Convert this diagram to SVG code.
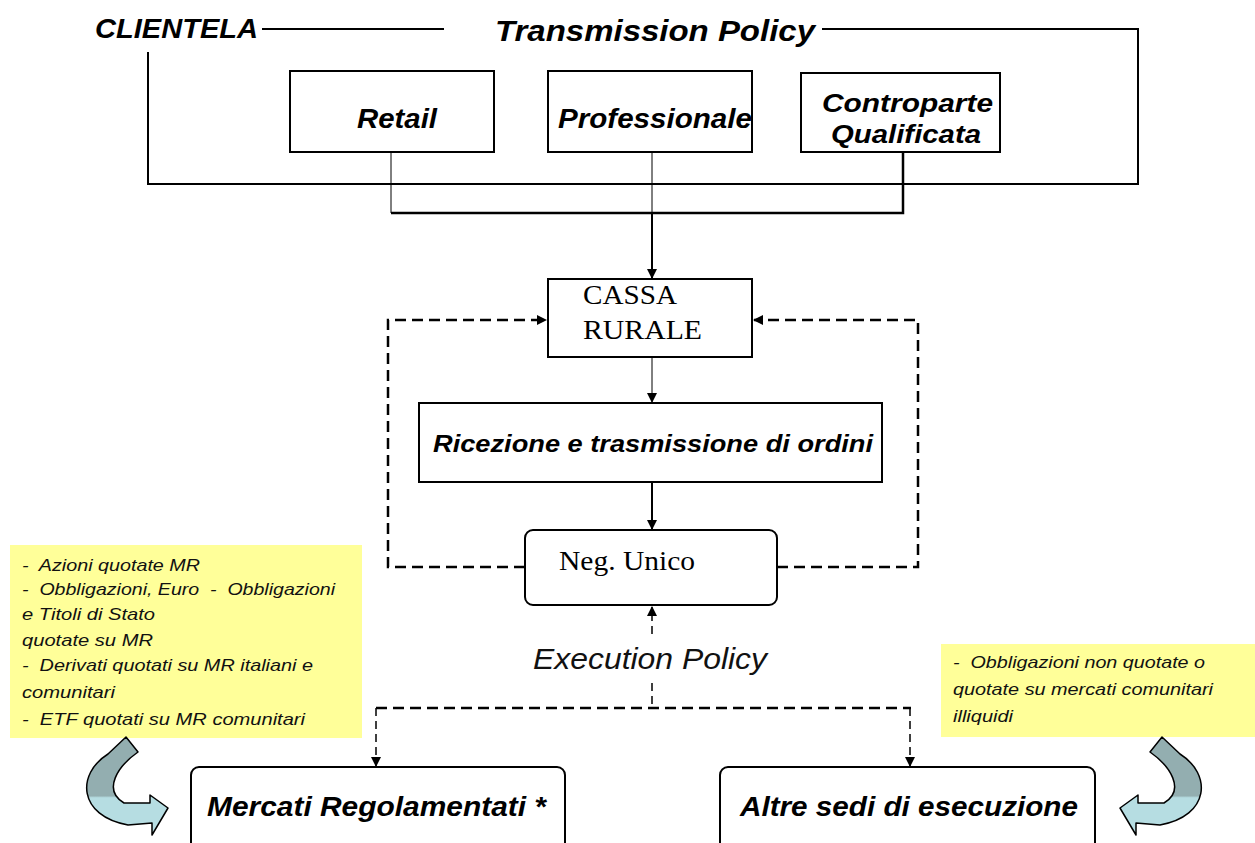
<svg xmlns="http://www.w3.org/2000/svg" width="1255" height="843" viewBox="0 0 1255 843">
<style>
.box{fill:#fff;stroke:#000;stroke-width:2}
.bi{font-family:"Liberation Sans",Arial,sans-serif;font-weight:bold;font-style:italic;fill:#000}
.it{font-family:"Liberation Sans",Arial,sans-serif;font-style:italic;fill:#111}
.serif{font-family:"Liberation Serif","Times New Roman",serif;fill:#000}
.ln{fill:none;stroke:#000}
.dash{fill:none;stroke:#000;stroke-width:2.5;stroke-dasharray:11 6}
.dthin{fill:none;stroke:#000;stroke-width:1.5;stroke-dasharray:8 5}
.note{fill:#ffff99}
.nt{font-family:"Liberation Sans",Arial,sans-serif;font-style:italic;font-size:17px;fill:#111;white-space:pre}
</style>
<defs>
<marker id="ah" markerWidth="10" markerHeight="10" refX="9" refY="5" orient="auto" markerUnits="userSpaceOnUse">
<path d="M0,0 L10,5 L0,10 Z" fill="#000"/>
</marker>
<linearGradient id="cg" x1="0" y1="0" x2="0" y2="1">
<stop offset="0" stop-color="#93aeb0"/>
<stop offset="0.6" stop-color="#93aeb0"/>
<stop offset="0.62" stop-color="#b6dde2"/>
<stop offset="1" stop-color="#b6dde2"/>
</linearGradient>
</defs>

<g id="connectors">
<path class="ln" stroke-width="2" d="M262,29 H444"/>
<path class="ln" stroke-width="2" d="M822,29 H1138 V184 H148 V52"/>
<path class="ln" stroke-width="1" d="M391,152 V213"/>
<path class="ln" stroke-width="1" d="M652,152 V213"/>
<path class="ln" stroke-width="2.5" d="M903,152 V213 H391"/>
<path class="ln" stroke-width="2" d="M652,213 V278" marker-end="url(#ah)"/>
<path class="ln" stroke-width="1" d="M652,357 V402" marker-end="url(#ah)"/>
<path class="ln" stroke-width="2" d="M652,482 V529" marker-end="url(#ah)"/>
<path class="dash" d="M525,567 H388 V320 H546" marker-end="url(#ah)"/>
<path class="dash" d="M777,567 H918 V320 H754" marker-end="url(#ah)"/>
<path class="dthin" d="M652,634 V607" marker-end="url(#ah)"/>
<path class="dthin" d="M652,683 V708"/>
<path class="dash" d="M376,708 H911"/>
<path class="dthin" d="M376,708 V766" marker-end="url(#ah)"/>
<path class="dthin" d="M910,708 V766" marker-end="url(#ah)"/>
</g>

<g id="clientela">
<text class="bi" x="95" y="38" font-size="27" textLength="163" lengthAdjust="spacingAndGlyphs">CLIENTELA</text>
</g>
<g id="transmission-policy">
<text class="bi" x="495" y="41" font-size="29" textLength="320" lengthAdjust="spacingAndGlyphs">Transmission  Policy</text>
</g>

<g id="retail">
<rect class="box" x="290" y="71" width="204" height="81"/>
<text class="bi" x="357" y="128" font-size="28" textLength="80" lengthAdjust="spacingAndGlyphs">Retail</text>
</g>
<g id="professionale">
<rect class="box" x="548" y="71" width="204" height="81"/>
<text class="bi" x="558" y="128" font-size="27" textLength="194" lengthAdjust="spacingAndGlyphs">Professionale</text>
</g>
<g id="controparte">
<rect class="box" x="801" y="73" width="199" height="79"/>
<text class="bi" x="822" y="112" font-size="26" textLength="171" lengthAdjust="spacingAndGlyphs">Controparte</text>
<text class="bi" x="831" y="143" font-size="26" textLength="150" lengthAdjust="spacingAndGlyphs">Qualificata</text>
</g>

<g id="cassa-rurale">
<rect class="box" x="548" y="279" width="204" height="78"/>
<text class="serif" x="583" y="304" font-size="28" textLength="94" lengthAdjust="spacingAndGlyphs">CASSA</text>
<text class="serif" x="583" y="339" font-size="28" textLength="119" lengthAdjust="spacingAndGlyphs">RURALE</text>
</g>

<g id="ricezione">
<rect class="box" x="419" y="403" width="463" height="79"/>
<text class="bi" x="433" y="452" font-size="23" textLength="440" lengthAdjust="spacingAndGlyphs">Ricezione e trasmissione di ordini</text>
</g>

<g id="neg-unico">
<rect class="box" x="525" y="530" width="252" height="75" rx="8"/>
<text class="serif" x="559" y="570" font-size="28" textLength="136" lengthAdjust="spacingAndGlyphs">Neg. Unico</text>
</g>

<g id="execution-policy">
<text class="it" x="533" y="669" font-size="30" textLength="234" lengthAdjust="spacingAndGlyphs">Execution Policy</text>
</g>

<g id="mercati">
<rect class="box" x="191" y="767" width="374" height="90" rx="8"/>
<text class="bi" x="207" y="816" font-size="28" textLength="339" lengthAdjust="spacingAndGlyphs">Mercati Regolamentati *</text>
</g>

<g id="altre-sedi">
<rect class="box" x="720" y="767" width="375" height="90" rx="8"/>
<text class="bi" x="740" y="816" font-size="28" textLength="338" lengthAdjust="spacingAndGlyphs">Altre sedi di esecuzione</text>
</g>

<g id="note-left">
<rect class="note" x="10" y="545" width="352" height="193"/>
<text class="nt" x="22" y="571" textLength="178" lengthAdjust="spacingAndGlyphs">-  Azioni quotate MR</text>
<text class="nt" x="22" y="595" textLength="313" lengthAdjust="spacingAndGlyphs">-  Obbligazioni, Euro  -  Obbligazioni</text>
<text class="nt" x="22" y="620" textLength="133" lengthAdjust="spacingAndGlyphs">e Titoli di Stato</text>
<text class="nt" x="22" y="646" textLength="131" lengthAdjust="spacingAndGlyphs">quotate su MR</text>
<text class="nt" x="22" y="671" textLength="291" lengthAdjust="spacingAndGlyphs">-  Derivati quotati su MR italiani e</text>
<text class="nt" x="22" y="698" textLength="93" lengthAdjust="spacingAndGlyphs">comunitari</text>
<text class="nt" x="22" y="725" textLength="283" lengthAdjust="spacingAndGlyphs">-  ETF quotati su MR comunitari</text>
</g>

<g id="note-right">
<rect class="note" x="941" y="644" width="314" height="93"/>
<text class="nt" x="953" y="668" textLength="252" lengthAdjust="spacingAndGlyphs">-  Obbligazioni non quotate o</text>
<text class="nt" x="953" y="695" textLength="260" lengthAdjust="spacingAndGlyphs">quotate su mercati comunitari</text>
<text class="nt" x="953" y="722" textLength="60" lengthAdjust="spacingAndGlyphs">illiquidi</text>
</g>

<g id="arrow-left">
<path d="M108,754 L126,737 L138,752 C118,766 102,790 124,803 L150,803 L150,795 L168,808 L152,835 L152,823 L128,825 C78,816 76,774 108,754 Z" fill="url(#cg)" stroke="#000" stroke-width="1.5" stroke-linejoin="round"/>
</g>
<g id="arrow-right">
<path transform="translate(1288,0) scale(-1,1)" d="M108,754 L126,737 L138,752 C118,766 102,790 124,803 L150,803 L150,795 L168,808 L152,835 L152,823 L128,825 C78,816 76,774 108,754 Z" fill="url(#cg)" stroke="#000" stroke-width="1.5" stroke-linejoin="round"/>
</g>
</svg>
